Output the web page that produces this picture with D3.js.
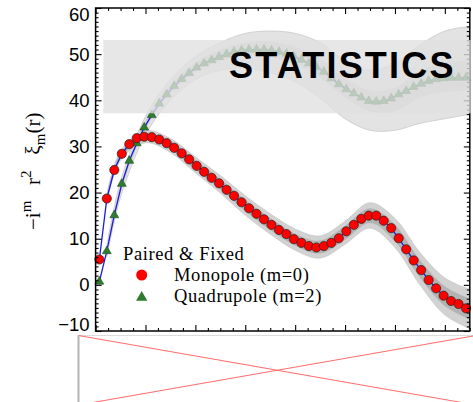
<!DOCTYPE html>
<html>
<head>
<meta charset="utf-8">
<script src="https://cdn.jsdelivr.net/npm/d3@7"></script>
<style>
  body { margin: 0; background: #fff; }
  svg { display: block; }
</style>
</head>
<body>
<div id="chart"></div>
<script>
// bin centres (r) and the two measured multipoles
const radii = [1.5, 4.5, 7.5, 10.5, 13.5, 16.5, 19.5, 22.5, 25.5, 28.5,
  31.5, 34.5, 37.5, 40.5, 43.5, 46.5, 49.5, 52.5, 55.5, 58.5,
  61.5, 64.5, 67.5, 70.5, 73.5, 76.5, 79.5, 82.5, 85.5, 88.5,
  91.5, 94.5, 97.5, 100.5, 103.5, 106.5, 109.5, 112.5, 115.5, 118.5,
  121.5, 124.5, 127.5, 130.5, 133.5, 136.5, 139.5, 142.5, 145.5, 148.5];

const monopole = [5.5, 18.7, 24.9, 28.4, 30.5, 31.8, 32.1, 32.0, 31.5, 30.7,
  29.7, 28.5, 27.2, 25.8, 24.5, 23.2, 22.0, 20.6, 19.3, 17.9,
  16.6, 15.4, 14.2, 13.0, 11.9, 11.0, 9.9, 9.1, 8.4, 8.1,
  8.4, 9.1, 10.1, 11.6, 13.0, 14.3, 15.0, 15.0, 13.9, 12.3,
  10.1, 7.7, 5.3, 3.2, 1.05, -0.75, -2.35, -3.5, -4.15, -5.1];

const quadrupole = [0.7, 7.3, 15.1, 21.9, 26.9, 30.7, 34.1, 36.8, 39.3, 41.3,
  43.1, 44.6, 45.9, 47.1, 48.0, 48.7, 49.4, 50.0, 50.5, 50.8,
  51.0, 51.0, 51.0, 50.8, 50.5, 50.1, 49.5, 48.8, 48.0, 47.2,
  46.2, 44.8, 43.5, 42.4, 41.5, 40.6, 39.85, 39.7, 39.85, 40.4,
  41.3, 42.0, 42.9, 43.6, 44.2, 44.6, 44.8, 44.9, 44.9, 44.9];

// spread of the grey mock curves, read at a coarser set of radii
const bandR = [4.5, 10, 20, 30, 40, 50, 60, 70, 80, 90, 100, 110, 120, 130, 140, 150];
const monoOuterLo = [17.8, 27.0, 30.8, 28.7, 24.3, 19.9, 15.1, 11.0, 7.5, 5.8, 8.8, 12.3, 8.1, 0.0, -6.5, -9.5];
const monoOuterHi = [19.6, 29.0, 33.4, 31.7, 27.7, 23.7, 19.3, 15.4, 12.1, 10.6, 13.8, 17.8, 14.4, 7.0, 1.5, -1.0];
const monoInnerLo = [18.2, 27.4, 31.4, 29.3, 25.0, 20.7, 16.0, 11.9, 8.5, 6.8, 9.8, 13.4, 9.4, 1.6, -4.6, -7.5];
const monoInnerHi = [19.2, 28.6, 32.8, 31.1, 27.0, 22.9, 18.4, 14.5, 11.1, 9.6, 12.8, 16.6, 13.0, 5.4, -0.3, -3.0];
const quadOuterLo = [6.0, 19.0, 32.5, 40.0, 44.5, 46.5, 47.0, 46.0, 44.0, 40.5, 36.0, 33.5, 33.5, 35.0, 36.0, 37.0];
const quadOuterHi = [8.5, 22.5, 36.5, 44.5, 49.5, 52.5, 54.5, 55.0, 54.5, 52.5, 48.5, 46.5, 48.0, 52.0, 55.0, 56.0];
const quadInnerLo = [6.8, 20.0, 33.8, 41.5, 46.2, 48.5, 49.7, 49.3, 47.7, 44.9, 40.6, 37.6, 37.6, 40.6, 41.8, 42.0];
const quadInnerHi = [7.9, 21.6, 35.6, 43.3, 48.2, 51.0, 52.5, 52.8, 51.6, 49.0, 44.8, 42.2, 42.7, 46.5, 48.2, 48.6];

const yMajor = [-10, 0, 10, 20, 30, 40, 50, 60];
const xMajor = [0, 20, 40, 60, 80, 100, 120, 140];
const legendTitle = "Paired & Fixed";
const legendLabels = ["Monopole (m=0)", "Quadrupole (m=2)"];
const stampText = "STATISTICS";

const W = 473, H = 402;
const svg = d3.select("#chart").append("svg")
  .attr("width", W).attr("height", H);
svg.append("rect").attr("width", W).attr("height", H).attr("fill", "#fff");

const x = d3.scaleLinear().domain([0, 150]).range([95.6, 469.8]);
const y = d3.scaleLinear().domain([-10, 60]).range([331, 8]);
const plotL = x(0), plotR = x(150), plotT = y(60), plotB = y(-10);

// grey bundles
const band = (lo, hi) => d3.area()
  .x((d, i) => x(bandR[i]))
  .y0((d, i) => y(lo[i]))
  .y1((d, i) => y(hi[i]))
  .curve(d3.curveCatmullRom)(bandR);

const bandEdge = arr => d3.line()
  .x((d, i) => x(bandR[i]))
  .y((d, i) => y(arr[i]))
  .curve(d3.curveCatmullRom)(bandR);

[[quadOuterLo, quadOuterHi, "#e3e3e3"], [quadInnerLo, quadInnerHi, "#cdcdcd"],
 [monoOuterLo, monoOuterHi, "#d2d2d2"], [monoInnerLo, monoInnerHi, "#b3b3b3"]]
  .forEach(([lo, hi, c]) => {
    svg.append("path").attr("d", band(lo, hi)).attr("fill", c);
  });
[quadOuterLo, quadOuterHi, monoOuterLo, monoOuterHi].forEach(arr => {
  svg.append("path").attr("d", bandEdge(arr))
    .attr("fill", "none").attr("stroke", "#c8c8c8").attr("stroke-width", 0.8);
});

// measured curves
const line = d3.line().x((d, i) => x(radii[i])).y(d => y(d));
[monopole, quadrupole].forEach(s => {
  svg.append("path").datum(s).attr("d", line)
    .attr("fill", "none").attr("stroke", "#1a1ae6").attr("stroke-width", 1.3);
});

svg.append("g").selectAll("path")
  .data(quadrupole).join("path")
  .attr("transform", (d, i) => `translate(${x(radii[i])},${y(d)})`)
  .attr("d", d3.symbol(d3.symbolTriangle, 34))
  .attr("fill", "#2e7b32").attr("stroke", "#1d4f20").attr("stroke-width", 0.6);

svg.append("g").selectAll("circle")
  .data(monopole).join("circle")
  .attr("cx", (d, i) => x(radii[i])).attr("cy", d => y(d))
  .attr("r", 4.6)
  .attr("fill", "#f00").attr("stroke", "#222").attr("stroke-width", 0.7);

// axes: ticks point inward, no labels on x
const xMinor = d3.range(0, 151, 5).filter(v => v % 20 !== 0);
const yMinor = d3.range(-10, 61, 1).filter(v => v % 10 !== 0);

function axisPair(axisFn, scale, majors, minors, tf) {
  const g = svg.append("g").attr("transform", tf);
  g.append("g").call(axisFn(scale).tickValues(majors).tickSize(-6).tickFormat(""));
  g.append("g").call(axisFn(scale).tickValues(minors).tickSize(-3).tickFormat(""));
  g.selectAll(".domain").remove();
  g.selectAll("line").attr("stroke", "#000").attr("stroke-width", 1.1);
  return g;
}
axisPair(d3.axisBottom, x, xMajor, xMinor, `translate(0,${plotB})`);
axisPair(d3.axisTop, x, xMajor, xMinor, `translate(0,${plotT})`);
axisPair(d3.axisLeft, y, yMajor, yMinor, `translate(${plotL},0)`);
axisPair(d3.axisRight, y, yMajor, yMinor, `translate(${plotR},0)`);

svg.append("rect")
  .attr("x", plotL).attr("y", plotT)
  .attr("width", plotR - plotL).attr("height", plotB - plotT)
  .attr("fill", "none").attr("stroke", "#000").attr("stroke-width", 1.5);

// y tick labels
svg.append("g").selectAll("text")
  .data(yMajor).join("text")
  .attr("x", plotL - 6)
  .attr("y", d => y(d) + (d === 60 ? 7 : d === -10 ? -6 : 0))
  .attr("dy", "0.35em")
  .attr("text-anchor", "end")
  .style("font-family", "'Liberation Sans', Arial, sans-serif")
  .style("font-size", "18.5px")
  .text(d => d < 0 ? "\u2212" + Math.abs(d) : d);

// y axis title, written upward from its bottom end
const yt = svg.append("text")
  .attr("transform", `translate(40,230) rotate(-90)`)
  .attr("text-anchor", "start")
  .style("font-family", "'Liberation Serif', 'Times New Roman', serif")
  .style("font-size", "21px");
yt.append("tspan").text("\u2212i");
yt.append("tspan").attr("dy", -9).style("font-size", "15px").text("m");
yt.append("tspan").attr("dy", 9).text("\u2002 r");
yt.append("tspan").attr("dy", -9).style("font-size", "15px").text("2");
yt.append("tspan").attr("dy", 9).text("\u2002 \u03be");
yt.append("tspan").attr("dy", 5).style("font-size", "15px").text("m");
yt.append("tspan").attr("dy", -5).text("(r)");

// grey stamp over the upper part
svg.append("rect")
  .attr("x", 103.3).attr("y", 40)
  .attr("width", plotR + 0.8 - 103.3).attr("height", 73.3)
  .attr("fill", "#e0e0e0").attr("fill-opacity", 0.78);
svg.append("text")
  .attr("x", 229).attr("y", 77.5)
  .style("font-family", "'Liberation Sans', Arial, sans-serif")
  .style("font-weight", "bold")
  .style("font-size", "36px")
  .style("letter-spacing", "2.2px")
  .attr("fill", "#000")
  .text(stampText);

// legend
const legFont = "'Liberation Serif', 'Times New Roman', serif";
svg.append("text")
  .attr("x", 123).attr("y", 260)
  .style("font-family", legFont).style("font-size", "18.5px")
  .style("letter-spacing", "0.6px")
  .text(legendTitle);
svg.append("circle").attr("cx", 141.7).attr("cy", 275).attr("r", 5.5).attr("fill", "#f00");
svg.append("path")
  .attr("transform", "translate(141.7,297.5)")
  .attr("d", d3.symbol(d3.symbolTriangle, 55))
  .attr("fill", "#2e7b32");
legendLabels.forEach((t, i) => {
  svg.append("text")
    .attr("x", 174).attr("y", 281 + i * 20.7)
    .style("font-family", legFont).style("font-size", "18.5px")
    .style("letter-spacing", "0.6px")
    .text(t);
});

// broken image placeholder below the chart
const bx0 = 78.5, by0 = 335.5, bx1 = 476, by1 = 405;
svg.append("line").attr("x1", bx0).attr("y1", by0).attr("x2", W).attr("y2", by0)
  .attr("stroke", "#dcdcdc").attr("stroke-width", 1);
svg.append("line").attr("x1", bx0).attr("y1", by0).attr("x2", bx0).attr("y2", H)
  .attr("stroke", "#b4b4b4").attr("stroke-width", 2);
svg.append("line").attr("x1", bx0).attr("y1", by0).attr("x2", bx1).attr("y2", by1)
  .attr("stroke", "#ff6b6b").attr("stroke-width", 1);
svg.append("line").attr("x1", bx0).attr("y1", by1).attr("x2", bx1).attr("y2", by0)
  .attr("stroke", "#ff6b6b").attr("stroke-width", 1);
</script>
</body>
</html>
